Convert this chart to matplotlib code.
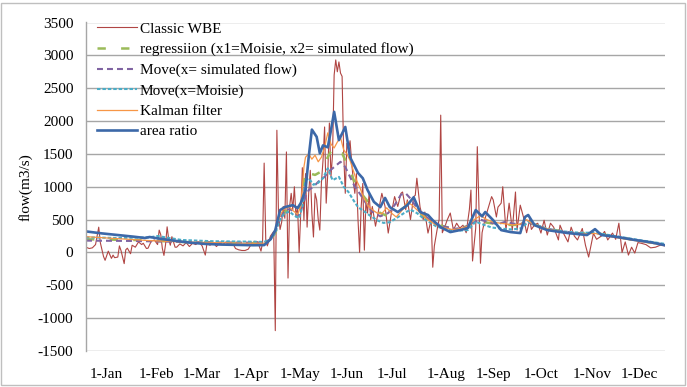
import matplotlib
matplotlib.use("Agg")
import matplotlib.pyplot as plt
from matplotlib.patches import Rectangle

plt.rcParams['font.family'] = ['Liberation Serif', 'DejaVu Serif']
plt.rcParams['lines.scale_dashes'] = False
plt.rcParams['axes.unicode_minus'] = False

# day of year (0 = 1-Jan) and flow (m3/s)
wbe_day = [0, 2, 4, 6, 8, 9, 11, 12, 14, 16, 17, 18, 20, 21, 22, 24, 25, 26, 28, 29,
           31, 33, 35, 36, 38, 39, 41, 43, 45, 46, 47, 48, 49, 50, 51, 52, 53, 54, 56, 57,
           59, 61, 63, 65, 67, 69, 71, 73, 75, 76, 78, 80, 82, 84, 86, 88, 90, 92, 94, 96,
           98, 100, 102, 104, 106, 108, 110, 111, 112, 113, 114, 116, 118, 119, 120, 121,
           122, 123, 124, 125, 126, 127, 128, 129, 130, 131, 132, 133, 134, 135, 136, 137,
           138, 139, 140, 141, 142, 143, 144, 145, 146, 147, 148, 149, 150, 151, 152, 153,
           154, 155, 156, 157, 158, 159, 160, 161, 162, 163, 164, 165, 166, 167, 168, 169,
           170, 171, 172, 173, 174, 175, 176, 177, 178, 179, 180, 182, 184, 186, 188, 190,
           192, 194, 196, 198, 199, 201, 202, 204, 206, 207, 208, 210, 212, 213, 215, 217,
           218, 219, 221, 222, 223, 224, 226, 227, 229, 231, 233, 235, 237, 239, 241, 242,
           243, 245, 246, 248, 249, 251, 253, 255, 256, 258, 259, 261, 262, 264, 266, 268,
           270, 271, 273, 275, 277, 279, 280, 282, 284, 286, 288, 290, 292, 294, 297, 298,
           300, 303, 305, 307, 309, 312, 314, 316, 319, 321, 324, 326, 328, 331, 333, 335,
           337, 339, 341, 343, 345, 347, 349, 352, 355, 358, 361, 364]
wbe_flow = [80, 60, 70, 120, 385, 150, -60, -120, 20, -90, -40, -80, -70, 100, 30, -170, 40, 65, -20, 110,
            80, 160, 120, 140, 60, 65, 170, 190, 120, 340, 270, 60, -45, 120, 390, 200, 110, 240, 80, 80,
            130, 100, 150, 90, 140, 120, 160, 100, -40, 130, 110, 150, 90, 140, 120, 160, 110, 150, 60, 40,
            30, 30, 50, 130, 170, 160, 20, 150, 1360, 200, 100, 250, 320, -1190, 1860, 600,
            350, 460, 700, 520, 1530, -390, 700, 900, 650, 1000, 540, 700, 0, 600, 1290, 490,
            1200, 385, 900, 1250, 600, 235, 900, 800, 500, 340, 1060, 1400, 1910, 750, 1200, 1970,
            1150, 1500, 2700, 2930, 2750, 2900, 2730, 2680, 1510, 900, 1660, 1560, 1700, 1380, 1100, 900,
            1200, 500, 0, 700, 1050, 35, 800, 600, 900, 500, 700, 400, 650, 900, 700, 295,
            600, 850, 700, 900, 920, 650, 800, 500, 850, 870, 1130, 690, 500, 615, 295, 500,
            -225, 100, 385, 500, 2090, 300, 420, 490, 600, 340, 445, 370, 415, 300, 650, 950,
            -130, 370, 1610, -165, 300, 525, 690, 850, 800, 540, 690, 750, 1000, 340, 750, 340,
            920, 340, 720, 540, 300, 500, 350, 420, 445, 295, 490, 265, 445, 385, 190, 415,
            300, 160, 385, 250, 190, 365, 110, -70, 290, 200, 250, 320, 190, 295, 200, 445,
            0, 160, -40, 80, -10, 150, 140, 120, 70, 80, 110, 100]

reg_day = [0, 30, 60, 90, 112, 116, 119, 122, 125, 128, 131, 134, 136, 138, 141, 144, 147, 149,
           152, 155, 158, 161, 164, 167, 170, 173, 177, 181, 185, 189, 193, 198, 202, 206, 210,
           214, 218, 223, 229, 235, 240, 244, 248, 253, 259, 266, 272, 277, 282, 290, 300, 310,
           320, 330, 340, 350, 364]
reg_flow = [200, 190, 160, 145, 140, 190, 300, 500, 620, 650, 620, 600, 850, 1250, 1200, 1180, 1220, 1300,
            1450, 1590, 1520, 1510, 1350, 1180, 1000, 900, 780, 680, 600, 560, 580, 650, 720, 660, 600,
            520, 460, 410, 370, 370, 400, 480, 470, 450, 430, 420, 420, 480, 420, 360, 320, 290,
            300, 250, 210, 170, 120]

msim_day = [0, 30, 60, 90, 112, 116, 119, 122, 125, 128, 131, 134, 136, 138, 140, 143, 147, 150,
            152, 156, 160, 163, 166, 169, 172, 176, 180, 185, 190, 194, 198, 201, 204, 208, 212,
            216, 220, 226, 232, 238, 243, 248, 253, 259, 264, 268, 273, 277, 282, 290, 300, 310,
            320, 330, 340, 350, 364]
msim_flow = [180, 175, 160, 150, 150, 200, 320, 520, 640, 660, 620, 560, 700, 850, 950, 1000, 1100, 1150,
             1220, 1300, 1380, 1300, 1150, 1000, 900, 750, 620, 550, 600, 720, 880, 900, 820, 680, 580,
             500, 440, 390, 360, 380, 450, 500, 460, 430, 470, 440, 430, 470, 420, 360, 320, 290,
             300, 250, 210, 170, 120]

mmoi_day = [0, 20, 40, 45, 60, 80, 100, 112, 116, 119, 122, 125, 128, 131, 134, 136, 138, 140, 143,
            146, 149, 152, 155, 159, 162, 165, 168, 171, 174, 178, 183, 187, 191, 195, 200, 204,
            208, 212, 216, 220, 226, 232, 240, 245, 249, 255, 262, 268, 274, 278, 283, 290, 300,
            310, 320, 330, 340, 350, 364]
mmoi_flow = [230, 220, 230, 250, 190, 170, 165, 160, 200, 300, 500, 600, 620, 560, 520, 700, 1100, 1130, 1030,
             1060, 1130, 1280, 1100, 1150, 1000, 920, 800, 690, 640, 570, 490, 450, 460, 520, 600, 650,
             600, 520, 460, 400, 350, 330, 340, 470, 430, 380, 360, 350, 370, 470, 420, 360, 320,
             300, 300, 260, 220, 180, 130]

kal_day = [0, 20, 40, 60, 80, 100, 112, 115, 118, 120, 122, 124, 126, 128, 130, 133, 135, 137, 138,
           140, 142, 144, 146, 148, 150, 152, 154, 156, 158, 160, 162, 164, 166, 168, 170, 172, 174,
           177, 180, 183, 186, 189, 192, 195, 198, 202, 205, 208, 212, 216, 220, 225, 230, 235, 240,
           244, 248, 252, 256, 262, 268, 273, 277, 281, 290, 300, 310, 320, 330, 340, 350, 364]
kal_flow = [240, 210, 180, 160, 150, 140, 140, 180, 280, 420, 560, 650, 680, 690, 640, 580, 700, 1300, 1450,
            1500, 1420, 1480, 1380, 1450, 1600, 1820, 1650, 1590, 1680, 1750, 1560, 1500, 1400, 1250, 1100, 1000, 870,
            720, 650, 600, 590, 680, 600, 540, 620, 770, 720, 650, 560, 480, 420, 380, 350, 360, 400,
            500, 560, 500, 460, 440, 420, 430, 500, 430, 360, 310, 280, 290, 240, 200, 160, 110]

area_day = [0, 10, 20, 30, 37, 40, 45, 55, 65, 75, 85, 95, 105, 112, 116, 119, 122, 125, 130, 133,
            135, 138, 140, 142, 145, 147, 149, 152, 154, 156, 159, 163, 166, 171, 174, 177, 181, 185,
            188, 191, 196, 202, 206, 210, 215, 218, 223, 229, 235, 240, 245, 249, 251, 256, 261, 267,
            273, 276, 278, 282, 290, 303, 315, 320, 324, 334, 345, 355, 364]
area_flow = [320, 290, 265, 240, 220, 235, 215, 180, 150, 130, 120, 115, 110, 112, 200, 340, 645, 690, 720, 675,
             750, 950, 1450, 1870, 1760, 1510, 1630, 1600, 1860, 2140, 1710, 1910, 1450, 1210, 1130, 950, 770, 690,
             830, 690, 615, 720, 840, 615, 570, 490, 385, 310, 340, 370, 645, 550, 615, 490, 340, 310,
             295, 540, 570, 415, 340, 295, 265, 355, 265, 235, 190, 155, 110]

month_start = [0, 31, 59, 90, 120, 151, 181, 212, 243, 273, 304, 334]
month_labels = ['1-Jan', '1-Feb', '1-Mar', '1-Apr', '1-May', '1-Jun',
                '1-Jul', '1-Aug', '1-Sep', '1-Oct', '1-Nov', '1-Dec']

fig = plt.figure(figsize=(6.87, 3.87), dpi=100)
ax = fig.add_axes([86 / 687, 1 - 351 / 387, (665 - 86) / 687, (351 - 22.5) / 387])

grid_c = '#A6A6A6'
ax.plot(wbe_day, wbe_flow, color='#B04543', lw=0.8, label='Classic WBE')
ax.plot(reg_day, reg_flow, color='#9BBB59', lw=1.8, dashes=(6, 11),
        label='regressiion (x1=Moisie, x2= simulated flow)')
ax.plot(msim_day, msim_flow, color='#8064A2', lw=1.5, dashes=(4.3, 2.9),
        label='Move(x= simulated flow)')
ax.plot(mmoi_day, mmoi_flow, color='#4BACC6', lw=1.5, dashes=(2.5, 1.4),
        label='Move(x=Moisie)')
ax.plot(kal_day, kal_flow, color='#F79646', lw=0.9, label='Kalman filter')
ax.plot(area_day, area_flow, color='#3C68A8', lw=1.9, label='area ratio')

ax.set_xlim(0, 364)
ax.set_ylim(-1500, 3500)
ax.set_yticks(range(-1500, 3501, 500))
ax.yaxis.grid(True, color=grid_c, lw=1.0)
ax.set_axisbelow(True)
for s in ['top', 'right', 'bottom']:
    ax.spines[s].set_visible(False)
ax.spines['left'].set_color(grid_c)
ax.spines['left'].set_linewidth(1.0)

ax.set_xticks([m + 2 for m in month_start])
ax.set_xticklabels(month_labels, ha='left')
ax.tick_params(axis='x', length=0, pad=12, labelsize=11)
ax.tick_params(axis='y', length=0, pad=9, labelsize=11)
ax.set_ylabel('flow(m3/s)', fontsize=11)
ax.yaxis.set_label_coords(-0.092, 0.5)

ax.legend(loc='upper left', bbox_to_anchor=(97 / 687, 1 - 22 / 387),
          bbox_transform=fig.transFigure, frameon=False, fontsize=11,
          handlelength=2.6, handletextpad=0.2, labelspacing=0.44, borderpad=0,
          borderaxespad=0)

fig.patches.append(Rectangle((1 / 687, 2 / 387), 684 / 687, 382 / 387,
                             transform=fig.transFigure, fill=False,
                             edgecolor='#BFBFBF', lw=1.0))

fig.savefig('out.png', dpi=100)
